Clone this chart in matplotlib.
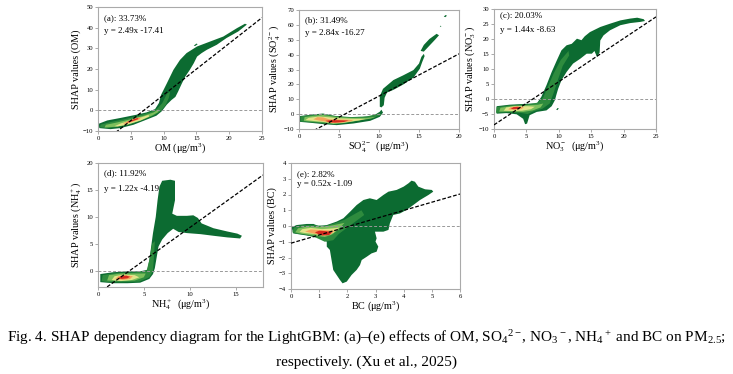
import matplotlib
matplotlib.use('Agg')
import matplotlib.pyplot as plt

plt.rcParams['font.family'] = ['Liberation Serif', 'DejaVu Serif']
plt.rcParams['mathtext.fontset'] = 'custom'
plt.rcParams['mathtext.rm'] = 'Liberation Serif'
plt.rcParams['mathtext.it'] = 'Liberation Serif:italic'

# panel info
letters = ['a', 'b', 'c', 'd', 'e']
shares = ['33.73%', '31.49%', '20.03%', '11.92%', '2.82%']
slopes = [2.49, 2.84, 1.44, 1.22, 0.52]
intercepts = [-17.41, -16.27, -8.63, -4.19, -1.09]
xlabels = ['OM (μg/m$^3$)', 'SO$_4^{2-}$  (μg/m$^3$)', 'NO$_3^-$  (μg/m$^3$)',
           'NH$_4^+$  (μg/m$^3$)', 'BC (μg/m$^3$)']
ylabels = ['SHAP values (OM)', 'SHAP values (SO$_4^{2-}$)', 'SHAP values (NO$_3^-$)',
           'SHAP values (NH$_4^+$)', 'SHAP values (BC)']
xlims = [(0, 25), (0, 20), (0, 25), (0, 18), (0, 6)]
ylims = [(-10, 50), (-10, 70), (-10, 30), (-3, 20), (-4, 4)]
xticks = [[0, 5, 10, 15, 20, 25], [0, 5, 10, 15, 20], [0, 5, 10, 15, 20, 25],
          [0, 5, 10, 15], [0, 1, 2, 3, 4, 5, 6]]
yticks = [[-10, 0, 10, 20, 30, 40, 50], [-10, 0, 10, 20, 30, 40, 50, 60, 70],
          [-10, -5, 0, 5, 10, 15, 20, 25, 30], [0, 5, 10, 15, 20],
          [-4, -3, -2, -1, 0, 1, 2, 3, 4]]

# density contours, outermost first (x, y)
om_l1 = [(0.1, -6.5), (1.4, -4.9), (3.4, -3.7), (5.9, -2.1), (7.4, -1.0), (8.7, 0.6),
         (9.3, 3.6), (9.6, 7.4), (10.5, 13.1), (11.5, 19.6), (12.5, 24.4), (13.5, 27.7),
         (15.1, 30.9), (17.1, 33.3), (19.1, 35.7), (21.2, 39.8), (22.4, 41.9), (22.7, 41.5),
         (21.4, 38.2), (19.6, 35.0), (18.1, 31.7), (16.6, 29.3), (15.8, 27.7), (15.1, 26.0),
         (14.6, 22.8), (14.0, 19.6), (13.3, 16.3), (12.8, 13.1), (12.2, 9.0), (11.8, 6.5),
         (11.2, 5.0), (10.5, 2.8), (9.7, -0.5), (8.9, -2.6), (7.4, -4.5), (5.4, -7.0),
         (3.4, -8.6), (1.9, -9.1), (0.2, -8.6)]
om_dot = [(14.6, 31.3), (15.0, 32.3), (15.2, 32.0), (14.8, 31.1)]
om_l2 = [(0.3, -8.2), (0.4, -6.9), (2.0, -5.6), (4.0, -4.3), (6.0, -2.7), (8.0, -0.9),
         (9.0, 0.8), (9.8, 3.5), (10.5, 8.0), (11.0, 9.0), (10.8, 6.0), (10.3, 2.5),
         (9.5, -0.5), (8.5, -2.5), (7.0, -4.5), (5.0, -6.7), (3.0, -8.0), (1.5, -8.6)]
om_l3 = [(1.0, -8.3), (1.2, -7.0), (3.0, -5.8), (5.0, -4.3), (7.0, -2.6), (8.5, -1.0),
         (9.2, 0.5), (9.2, -0.8), (8.2, -2.6), (6.5, -4.8), (4.5, -6.8), (2.5, -8.0)]
om_l4 = [(2.5, -7.7), (3.5, -6.3), (5.0, -4.8), (6.8, -3.2), (7.7, -2.2), (7.8, -3.0),
         (6.5, -4.9), (4.5, -6.9), (3.0, -7.8)]
om_l5 = [(3.8, -6.3), (4.8, -5.0), (6.0, -3.6), (6.5, -3.3), (6.4, -4.2), (5.2, -5.6),
         (4.2, -6.5)]
om_l6 = [(4.4, -5.7), (5.2, -4.6), (6.0, -3.7), (6.2, -4.2), (5.3, -5.2), (4.6, -5.9)]

so4_l1 = [(0.1, -1.3), (1.8, -0.2), (3.0, 0.4), (4.3, -1.1), (6.0, -2.2), (7.6, -2.2),
          (9.3, -1.1), (10.1, 1.6), (10.3, 3.0), (10.5, 1.0), (10.1, -1.8), (8.9, -4.5),
          (6.8, -6.3), (4.7, -7.4), (3.0, -6.7), (1.4, -5.8), (0.1, -5.2)]
so4_up = [(10.1, 5.0), (10.1, 12.0), (10.5, 17.0), (11.8, 22.9), (13.0, 26.0), (14.3, 29.6),
          (15.0, 34.0), (15.3, 38.5), (15.6, 40.5), (15.7, 39.0), (15.4, 35.0), (15.1, 30.5),
          (14.3, 24.5), (13.0, 19.8), (11.8, 16.3), (11.0, 14.5), (10.7, 11.0), (10.6, 6.0),
          (10.3, 4.5)]
so4_top = [(15.2, 42.5), (15.6, 46.5), (16.3, 50.5), (17.2, 54.0), (17.5, 53.0), (17.0, 50.0),
           (16.3, 46.0), (15.6, 42.0)]
so4_dot1 = [(17.6, 58.5), (17.7, 59.5), (17.8, 59.0)]
so4_dot2 = [(18.1, 65.5), (18.3, 66.6), (18.5, 66.2), (18.3, 65.2)]
so4_l2 = [(0.2, -5.0), (0.2, -1.5), (1.5, -0.6), (3.0, 0.0), (4.5, -1.2), (6.5, -2.0),
          (8.5, -1.5), (10.1, 0.5), (10.3, -0.5), (9.5, -2.0), (8.0, -3.8), (6.0, -5.7),
          (4.5, -6.8), (3.0, -6.2), (1.5, -5.5)]
so4_l3 = [(0.6, -4.5), (0.7, -2.0), (2.0, -1.0), (3.0, -0.6), (4.5, -1.8), (6.5, -2.6),
          (8.5, -2.5), (9.6, -1.8), (9.0, -3.0), (7.5, -4.3), (5.5, -6.0), (4.3, -6.5),
          (3.0, -5.6), (1.5, -5.0)]
so4_l4 = [(0.8, -4.0), (1.2, -2.5), (2.5, -1.6), (3.5, -2.0), (5.0, -2.8), (7.0, -3.2),
          (8.3, -3.2), (7.5, -4.2), (5.5, -5.8), (4.3, -6.2), (3.0, -5.2), (1.8, -4.6)]
so4_l5 = [(1.8, -3.5), (2.3, -2.0), (3.0, -2.2), (3.8, -3.5), (5.0, -3.6), (6.8, -3.9),
          (6.5, -4.8), (5.0, -5.9), (4.0, -6.0), (3.3, -5.0), (2.5, -4.3)]
so4_l6 = [(3.3, -4.5), (4.0, -4.0), (5.0, -4.1), (6.2, -4.3), (5.6, -5.3), (4.5, -5.7),
          (3.8, -5.4)]

no3_l1 = [(0.4, -2.4), (2.4, -1.9), (5.0, -1.6), (6.6, -1.5), (7.3, 0.7), (8.1, 4.6),
          (8.9, 9.0), (9.7, 12.9), (10.4, 16.2), (11.2, 17.9), (12.0, 18.4), (12.8, 20.1),
          (13.5, 19.6), (14.0, 20.9), (14.8, 22.3), (16.4, 24.0), (17.9, 25.1), (19.5, 26.2),
          (21.0, 26.8), (22.1, 27.1), (23.1, 26.6), (23.3, 26.0), (22.6, 25.7), (21.0, 25.3),
          (19.5, 24.6), (17.9, 22.9), (16.9, 21.2), (16.4, 19.5), (16.3, 15.5), (15.9, 14.0),
          (15.5, 16.0), (15.1, 15.1), (14.3, 15.1), (13.3, 13.4), (12.2, 11.8), (11.2, 9.0),
          (10.4, 6.2), (9.9, 3.4), (9.6, 1.2), (9.4, -0.4), (8.9, -2.4), (8.1, -3.8),
          (6.6, -4.3), (5.5, -5.4), (5.1, -8.2), (4.8, -8.4), (4.5, -6.6), (3.5, -5.1),
          (1.9, -4.7), (0.4, -4.9)]
no3_dot = [(9.6, -3.6), (9.8, -3.0), (10.0, -3.1), (9.8, -3.7)]
no3_l2 = [(0.3, -4.6), (0.4, -2.7), (2.5, -2.1), (5.0, -1.8), (6.8, -1.2), (7.6, 0.5),
          (8.3, 4.0), (9.2, 8.5), (10.3, 13.0), (11.5, 16.0), (11.6, 14.5), (10.6, 11.0),
          (9.8, 6.0), (9.2, 2.0), (8.6, -1.5), (7.5, -3.2), (6.0, -4.2), (5.2, -5.0),
          (4.0, -4.6), (2.0, -4.4)]
no3_l3 = [(0.8, -4.2), (1.0, -2.9), (3.0, -2.3), (5.0, -2.1), (6.8, -1.9), (7.6, -1.5),
          (7.2, -2.8), (6.0, -3.8), (4.5, -4.3), (2.5, -4.2)]
no3_l4 = [(1.5, -3.9), (1.9, -2.8), (3.3, -2.4), (5.2, -2.4), (6.3, -2.6), (5.7, -3.4),
          (4.3, -3.9), (2.8, -4.0)]
no3_l5 = [(2.2, -3.5), (2.6, -2.7), (3.5, -2.5), (4.6, -2.7), (4.3, -3.3), (3.3, -3.6)]
no3_l6 = [(2.6, -3.3), (3.0, -2.7), (3.7, -2.6), (4.1, -2.9), (3.7, -3.3), (3.0, -3.4)]

nh4_l1 = [(0.25, -0.6), (1.7, -0.25), (3.2, -0.1), (4.6, -0.1), (5.4, 0.2), (5.6, 2.0),
          (5.8, 4.5), (6.0, 7.0), (6.3, 10.0), (6.5, 13.1), (6.7, 15.6), (7.0, 16.7),
          (7.9, 16.9), (8.4, 16.7), (8.4, 13.1), (8.1, 10.6), (8.6, 10.2), (9.7, 10.2),
          (10.4, 10.3), (10.9, 9.8), (11.3, 8.8), (12.6, 7.9), (14.1, 7.3), (15.2, 6.9),
          (15.7, 6.5), (15.5, 6.0), (14.1, 6.2), (12.6, 6.5), (11.2, 6.8), (9.7, 7.0),
          (8.8, 7.2), (8.2, 7.8), (7.6, 7.0), (7.0, 5.8), (6.6, 4.5), (6.4, 2.5), (6.2, 0.5),
          (6.0, -0.6), (5.6, -1.5), (4.6, -2.2), (3.2, -2.3), (1.7, -2.3), (0.25, -2.1)]
nh4_l2 = [(0.4, -1.9), (0.5, -0.8), (2.0, -0.4), (4.0, -0.3), (5.3, 0.0), (5.6, 2.0),
          (5.9, 5.0), (6.2, 5.5), (6.1, 2.5), (6.0, 0.0), (5.6, -1.2), (4.5, -2.0),
          (2.5, -2.1), (1.0, -2.1)]
nh4_l3 = [(1.0, -1.8), (1.2, -0.8), (2.5, -0.5), (4.0, -0.5), (5.2, -0.5), (5.0, -1.2),
          (4.0, -1.8), (2.5, -1.9)]
nh4_l4 = [(1.5, -1.7), (1.8, -1.0), (2.8, -0.7), (4.0, -0.8), (4.5, -1.2), (3.7, -1.7),
          (2.5, -1.9)]
nh4_l5 = [(1.9, -1.5), (2.2, -1.0), (3.0, -0.8), (3.8, -1.0), (3.5, -1.5), (2.7, -1.7)]
nh4_l6 = [(2.2, -1.4), (2.5, -1.0), (3.1, -0.9), (3.5, -1.1), (3.2, -1.4), (2.6, -1.5)]

bc_l1 = [(0.02, -0.08), (0.2, 0.06), (0.56, 0.13), (0.8, 0.13), (0.97, 0.0), (1.27, 0.06),
         (1.62, 0.28), (1.86, 0.49), (2.1, 0.91), (2.33, 1.33), (2.57, 1.65), (2.8, 1.76),
         (3.04, 1.65), (3.28, 1.97), (3.46, 2.18), (3.75, 2.29), (4.0, 2.5), (4.17, 2.71),
         (4.28, 2.88), (4.4, 2.81), (4.52, 2.5), (4.76, 2.33), (5.0, 2.29), (5.05, 2.18),
         (4.88, 1.97), (4.58, 1.65), (4.34, 1.33), (4.1, 1.02), (3.87, 0.8), (3.63, 0.7),
         (3.51, 0.17), (3.46, -0.25), (3.28, -0.36), (2.98, -0.36), (3.04, -0.78),
         (3.0, -0.99), (3.1, -1.31), (3.04, -1.63), (2.86, -1.74), (2.69, -1.95),
         (2.51, -2.16), (2.45, -2.48), (2.33, -2.79), (2.15, -3.11), (1.98, -3.53),
         (1.83, -3.64), (1.74, -3.43), (1.62, -3.11), (1.5, -2.79), (1.44, -2.16),
         (1.38, -1.52), (1.27, -1.31), (1.27, -0.99), (0.97, -0.72), (0.44, -0.57),
         (0.08, -0.47)]
bc_l2 = [(0.05, -0.4), (0.1, -0.1), (0.4, 0.05), (0.8, 0.05), (1.2, 0.0), (1.6, 0.2),
         (1.9, 0.4), (2.2, 0.7), (2.5, 1.0), (2.6, 0.7), (2.3, 0.3), (2.0, -0.1), (1.7, -0.5),
         (1.5, -0.9), (1.2, -1.0), (0.9, -0.75), (0.5, -0.55), (0.2, -0.5)]
bc_l3 = [(0.15, -0.4), (0.25, -0.15), (0.6, -0.02), (1.0, -0.08), (1.5, 0.05), (1.9, 0.2),
         (1.7, -0.2), (1.45, -0.55), (1.2, -0.7), (0.8, -0.6), (0.4, -0.5)]
bc_l4 = [(0.3, -0.38), (0.4, -0.2), (0.7, -0.12), (1.1, -0.2), (1.5, -0.15), (1.7, -0.1),
         (1.5, -0.45), (1.2, -0.6), (0.8, -0.5), (0.5, -0.45)]
bc_l5 = [(0.5, -0.35), (0.7, -0.22), (1.0, -0.25), (1.35, -0.28), (1.55, -0.3), (1.4, -0.55),
         (1.15, -0.6), (0.85, -0.5)]
bc_l6 = [(0.85, -0.4), (1.0, -0.3), (1.25, -0.33), (1.45, -0.4), (1.35, -0.58), (1.1, -0.6),
         (0.95, -0.5)]

level_colors = ['#0c6b31', '#2e8b3e', '#7dbf5c', '#e3e48a', '#f4a45c', '#d62a1f']

panels = [
    [[om_l1, om_dot], [om_l2], [om_l3], [om_l4], [om_l5], [om_l6]],
    [[so4_l1, so4_up, so4_top, so4_dot1, so4_dot2], [so4_l2], [so4_l3], [so4_l4], [so4_l5], [so4_l6]],
    [[no3_l1, no3_dot], [no3_l2], [no3_l3], [no3_l4], [no3_l5], [no3_l6]],
    [[nh4_l1], [nh4_l2], [nh4_l3], [nh4_l4], [nh4_l5], [nh4_l6]],
    [[bc_l1], [bc_l2], [bc_l3], [bc_l4], [bc_l5], [bc_l6]],
]

# axes boxes in pixels: left, top, right, bottom
W, H = 733, 374
boxes = [(98, 7, 262, 131), (299, 10, 459, 129), (494, 9, 656, 129),
         (98, 163, 263, 287), (291, 163, 460, 289)]
text_y = [(0.91, 0.81), (0.915, 0.805), (0.945, 0.825), (0.915, 0.79), (0.913, 0.83)]

fig = plt.figure(figsize=(W / 100, H / 100), dpi=100)

for i in range(5):
    l, t, r, b = boxes[i]
    ax = fig.add_axes([l / W, 1 - b / H, (r - l) / W, (b - t) / H])
    for level, polys in enumerate(panels[i]):
        for poly in polys:
            xs = [p[0] for p in poly]
            ys = [p[1] for p in poly]
            ax.fill(xs, ys, color=level_colors[level], lw=0, zorder=1 + level)
    ax.axhline(0, color='#999999', ls=(0, (3, 2)), lw=0.7, zorder=8)
    x0, x1 = xlims[i]
    ax.plot([x0, x1], [slopes[i] * x0 + intercepts[i], slopes[i] * x1 + intercepts[i]],
            color='black', ls=(0, (3, 1.5)), lw=0.9, zorder=9)
    ax.set_xlim(xlims[i])
    ax.set_ylim(ylims[i])
    ax.set_xticks(xticks[i])
    ax.set_yticks(yticks[i])
    ax.tick_params(labelsize=4.8, length=2, width=0.5, pad=1.5, color='#888888')
    for s in ax.spines.values():
        s.set_color('#aaaaaa')
        s.set_linewidth(0.8)
    ax.set_xlabel(xlabels[i], fontsize=7.3, labelpad=0.5)
    ax.set_ylabel(ylabels[i], fontsize=7.3, labelpad=1.5)
    ax.text(0.035, text_y[i][0], '(%s): %s' % (letters[i], shares[i]), transform=ax.transAxes,
            fontsize=6.5, va='center', zorder=10)
    ax.text(0.035, text_y[i][1], 'y = %.2fx %.2f' % (slopes[i], intercepts[i]),
            transform=ax.transAxes, fontsize=6.5, va='center', zorder=10)

fig.text(0.5, 1 - 338 / H,
         'Fig. 4. SHAP dependency diagram for the LightGBM: (a)–(e) effects of OM, '
         'SO$_4$$^{2-}$, NO$_3$$^-$, NH$_4$$^+$ and BC on PM$_{2.5}$;',
         ha='center', va='center', fontsize=11)
fig.text(0.5, 1 - 362 / H, 'respectively. (Xu et al., 2025)',
         ha='center', va='center', fontsize=11)

fig.savefig('out.png', dpi=100)
